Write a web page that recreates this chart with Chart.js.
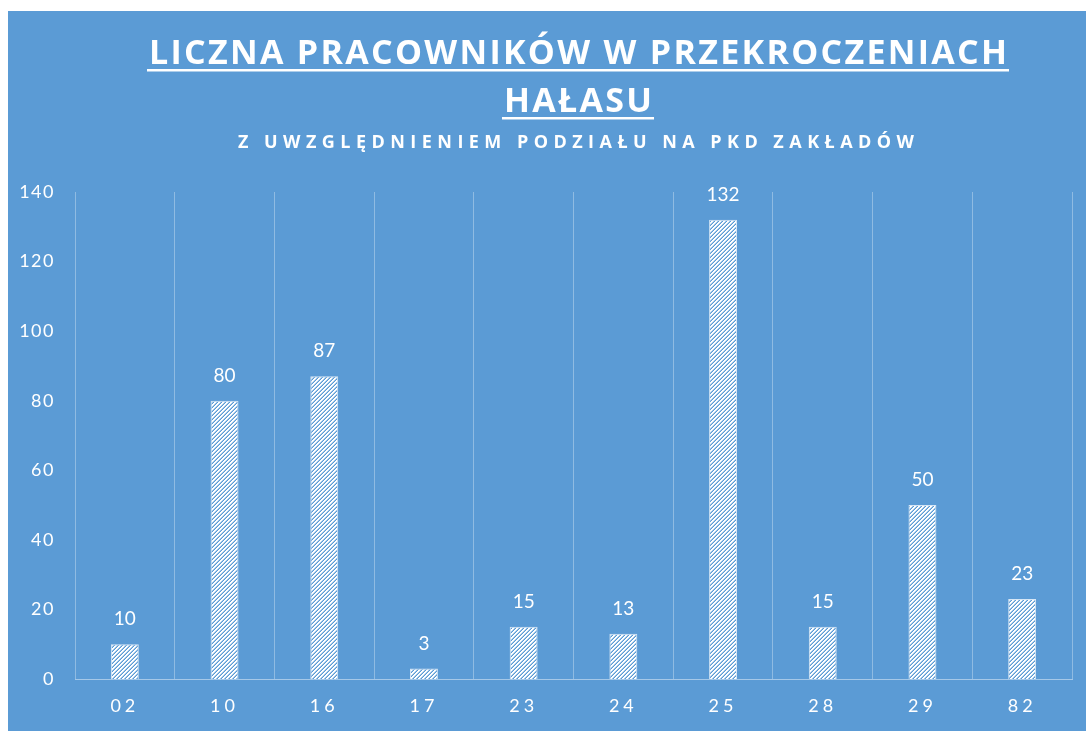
<!DOCTYPE html>
<html><head><meta charset="utf-8">
<script src="https://cdn.jsdelivr.net/npm/chart.js@4"></script>
<style>html,body{margin:0;padding:0;background:#fff;overflow:hidden}#wrap{position:relative;width:1086px;height:731px}</style>
</head><body><div id="wrap"><canvas id="c"></canvas></div>
<script>
const categories = ['02','10','16','17','23','24','25','28','29','82'];
const workers = [10,80,87,3,15,13,132,15,50,23];
const yTicks = [0,20,40,60,80,100,120,140];
const titleLines = ['LICZNA PRACOWNIKÓW W PRZEKROCZENIACH','HAŁASU'];
const subtitleText = 'Z UWZGLĘDNIENIEM PODZIAŁU NA PKD ZAKŁADÓW';

const BLUE = '#5B9BD5';

function makeHatch(){
  const t = document.createElement('canvas'); t.width = 8; t.height = 8;
  const c = t.getContext('2d');
  const img = c.createImageData(8, 8);
  const alpha = [255, 255, 110, 0];
  for (let y = 0; y < 8; y++) for (let x = 0; x < 8; x++) {
    const i = (y * 8 + x) * 4;
    img.data[i] = 255; img.data[i+1] = 255; img.data[i+2] = 255;
    img.data[i+3] = alpha[(x + y) % 4];
  }
  c.putImageData(img, 0, 0);
  return c.createPattern(t, 'repeat');
}

function spacedText(ctx, text, cx, y, spacing){
  ctx.letterSpacing = '0px';
  const w0 = ctx.measureText(text).width;
  const w = w0 + spacing * (text.length - 1);
  ctx.letterSpacing = spacing + 'px';
  ctx.fillText(text, cx - w / 2, y);
  ctx.letterSpacing = '0px';
  return w;
}

const stylePlugin = {
  id: 'style',
  beforeDraw(chart){
    const ctx = chart.ctx;
    ctx.save();
    ctx.fillStyle = '#ffffff';
    ctx.fillRect(0, 0, chart.width, chart.height);
    ctx.fillStyle = BLUE;
    ctx.fillRect(8, 11, chart.width - 8, chart.height - 11);
    ctx.restore();
    ctx.letterSpacing = '1.5px';
  },
  afterDatasetsDraw(chart){
    const ctx = chart.ctx;
    ctx.save();
    ctx.letterSpacing = '0px';
    ctx.fillStyle = '#ffffff';
    ctx.font = '19px Lato';
    ctx.textAlign = 'center';
    ctx.textBaseline = 'middle';
    const meta = chart.getDatasetMeta(0);
    meta.data.forEach((bar, i) => {
      ctx.fillText(String(workers[i]), bar.x, bar.y - 25);
    });
    ctx.restore();
    ctx.letterSpacing = '4px';
  },
  afterDraw(chart){
    const ctx = chart.ctx;
    ctx.save();
    ctx.letterSpacing = '0px';
    ctx.fillStyle = '#ffffff';
    ctx.textAlign = 'left';
    ctx.textBaseline = 'alphabetic';
    const cx = 578;
    ctx.font = 'bold 34px "Open Sans"';
    const w0 = ctx.measureText(titleLines[0]).width;
    const sp = (858 - w0) / (titleLines[0].length - 1);
    const w1 = spacedText(ctx, titleLines[0], cx, 64, sp);
    ctx.fillRect(cx - w1 / 2 - 2, 69, w1 + 4, 2.5);
    const w2 = spacedText(ctx, titleLines[1], cx, 112, sp);
    ctx.fillRect(cx - w2 / 2 - 2, 117, w2 + 4, 2.5);
    ctx.font = 'bold 18px "Open Sans"';
    const s0 = ctx.measureText(subtitleText).width;
    const sp2 = (676 - s0) / (subtitleText.length - 1);
    spacedText(ctx, subtitleText, 576, 148, sp2);
    ctx.restore();
    ctx.letterSpacing = '0px';
  }
};

Chart.defaults.font.family = 'Lato';
Chart.defaults.font.size = 18;
Chart.defaults.color = '#ffffff';

new Chart(document.getElementById('c'), {
  type: 'bar',
  data: {
    labels: categories,
    datasets: [{
      data: workers,
      backgroundColor: makeHatch(),
      borderColor: 'rgba(255,255,255,0.75)',
      borderWidth: 1,
      categoryPercentage: 1,
      barPercentage: 0.28
    }]
  },
  options: {
    responsive: true,
    maintainAspectRatio: false,
    animation: false,
    devicePixelRatio: 1,
    layout: { padding: { top: 192, left: 8, right: 14, bottom: 0 } },
    plugins: { legend: { display: false }, tooltip: { enabled: false }, title: { display: false } },
    scales: {
      x: {
        grid: { display: true, offset: true, drawTicks: false, color: 'rgba(255,255,255,0.32)', lineWidth: 1 },
        border: { display: true, color: 'rgba(255,255,255,0.45)', width: 1 },
        ticks: { z: 1, padding: 16, color: '#ffffff', font: { size: 18, family: 'Lato' }, maxRotation: 0 },
        afterFit(s){ s.height = 52; }
      },
      y: {
        min: 0, max: 140,
        afterBuildTicks(s){ s.ticks = yTicks.map(v => ({ value: v })); },
        grid: { display: false, drawTicks: false },
        border: { display: false },
        ticks: { padding: 20, color: '#ffffff', font: { size: 18, family: 'Lato' } },
        afterFit(s){ s.width = 67; }
      }
    }
  },
  plugins: [stylePlugin]
});
</script>
</body></html>
